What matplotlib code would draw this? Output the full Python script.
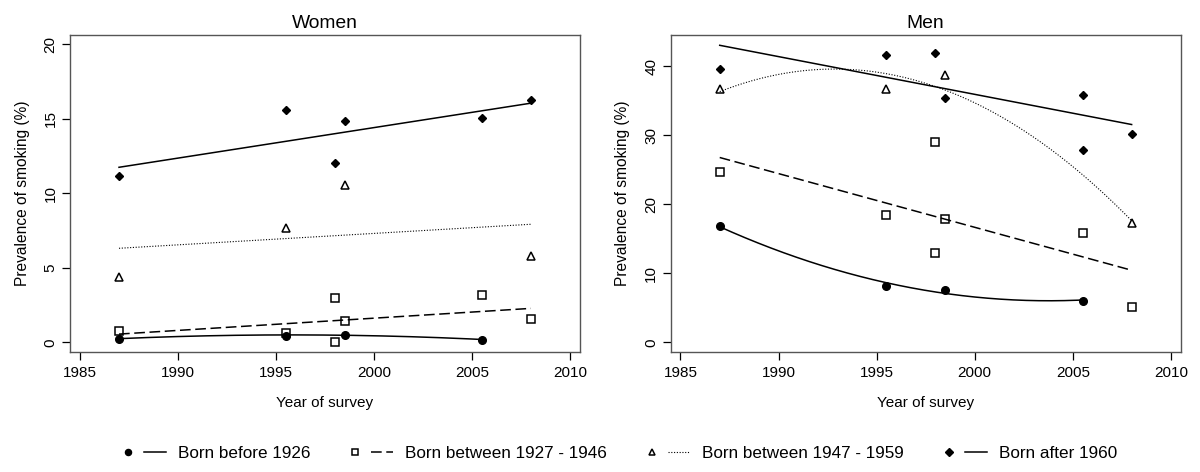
import numpy as np
import matplotlib.pyplot as plt
from matplotlib.lines import Line2D
from matplotlib.legend_handler import HandlerTuple

plt.rcParams['font.family'] = ['Liberation Sans', 'DejaVu Sans']

# prevalence of smoking (%) by survey year, per birth cohort
w_before_yr = [1987, 1995.5, 1998.5, 2005.5]
w_before = [0.25, 0.45, 0.52, 0.18]
w_mid1_yr = [1987, 1995.5, 1998, 1998, 1998.5, 2005.5, 2008]
w_mid1 = [0.78, 0.6, 3.0, 0.0, 1.46, 3.16, 1.55]
w_mid2_yr = [1987, 1995.5, 1998.5, 2008]
w_mid2 = [4.35, 7.69, 10.56, 5.78]
w_after_yr = [1987, 1995.5, 1998, 1998.5, 2005.5, 2008]
w_after = [11.17, 15.56, 12.0, 14.87, 15.02, 16.28]

m_before_yr = [1987, 1995.5, 1998.5, 2005.5]
m_before = [16.81, 8.16, 7.58, 6.04]
m_mid1_yr = [1987, 1995.5, 1998, 1998, 1998.5, 2005.5, 2008]
m_mid1 = [24.73, 18.5, 28.99, 12.95, 17.87, 15.85, 5.17]
m_mid2_yr = [1987, 1995.5, 1998.5, 2008]
m_mid2 = [36.67, 36.71, 38.7, 17.34]
m_after_yr = [1987, 1995.5, 1998, 1998.5, 2005.5, 2005.5, 2008]
m_after = [39.66, 41.59, 41.93, 35.41, 35.89, 27.92, 30.24]

labels = ["Born before 1926", "Born between 1927 - 1946",
          "Born between 1947 - 1959", "Born after 1960"]
women_degree = [2, 1, 1, 1]
men_degree = [2, 1, 2, 1]

markers = [dict(marker='o', ms=5.5, mfc='black', mec='black'),
           dict(marker='s', ms=5.5, mfc='none', mec='black', mew=1.1),
           dict(marker='^', ms=6, mfc='none', mec='black', mew=1.1),
           dict(marker='D', ms=4.5, mfc='black', mec='black')]
lines = [dict(ls='-', lw=1.1),
         dict(ls=(0, (7, 3)), lw=1.1),
         dict(ls=(0, (1, 1.5)), lw=0.8),
         dict(ls='-', lw=1.1)]


def panel(ax, series, degrees, ylim, yticks, title):
    for i, (yr, val) in enumerate(series):
        yr = np.array(yr)
        coef = np.polyfit(yr, val, degrees[i])
        xs = np.linspace(yr.min(), yr.max(), 200)
        ax.plot(xs, np.polyval(coef, xs), color='black', **lines[i])
        ax.plot(yr, val, ls='none', zorder=3, **markers[i])
    ax.set_xlim(1984.5, 2010.5)
    ax.set_ylim(*ylim)
    ax.set_xticks([1985, 1990, 1995, 2000, 2005, 2010])
    ax.set_yticks(yticks)
    ax.tick_params(direction='out', length=6, width=0.9, labelsize=11, pad=4)
    ax.tick_params(axis='y', labelrotation=90, pad=3)
    for t in ax.get_yticklabels():
        t.set_va('center')
    for s in ax.spines.values():
        s.set_color('#555555')
        s.set_linewidth(1)
    ax.set_title(title, fontsize=13.9, pad=5)
    ax.set_xlabel("Year of survey", fontsize=11, labelpad=12)
    ax.set_ylabel("Prevalence of smoking (%)", fontsize=11.2, labelpad=10)


fig = plt.figure(figsize=(12, 4.72), dpi=100)
ax1 = fig.add_axes([0.0583, 0.2549, 0.425, 0.6716])
ax2 = fig.add_axes([0.5589, 0.2549, 0.425, 0.6716])

panel(ax1, [(w_before_yr, w_before), (w_mid1_yr, w_mid1),
            (w_mid2_yr, w_mid2), (w_after_yr, w_after)],
      women_degree, (-0.63, 20.64), [0, 5, 10, 15, 20], "Women")
panel(ax2, [(m_before_yr, m_before), (m_mid1_yr, m_mid1),
            (m_mid2_yr, m_mid2), (m_after_yr, m_after)],
      men_degree, (-1.36, 44.58), [0, 10, 20, 30, 40], "Men")

handles = []
for i in range(4):
    mk = Line2D([], [], ls='none', color='black', **markers[i])
    ln = Line2D([], [], color='black', **lines[i])
    handles.append((mk, ln))

fig.legend(handles, labels, loc='center', bbox_to_anchor=(617 / 1200, 1 - 453 / 472),
           ncol=4, frameon=False, fontsize=12.3, handlelength=2.87,
           handletextpad=0.7, columnspacing=2.0, markerscale=0.8,
           handler_map={tuple: HandlerTuple(ndivide=None, pad=0.29)})

fig.savefig("out.png", dpi=100)
